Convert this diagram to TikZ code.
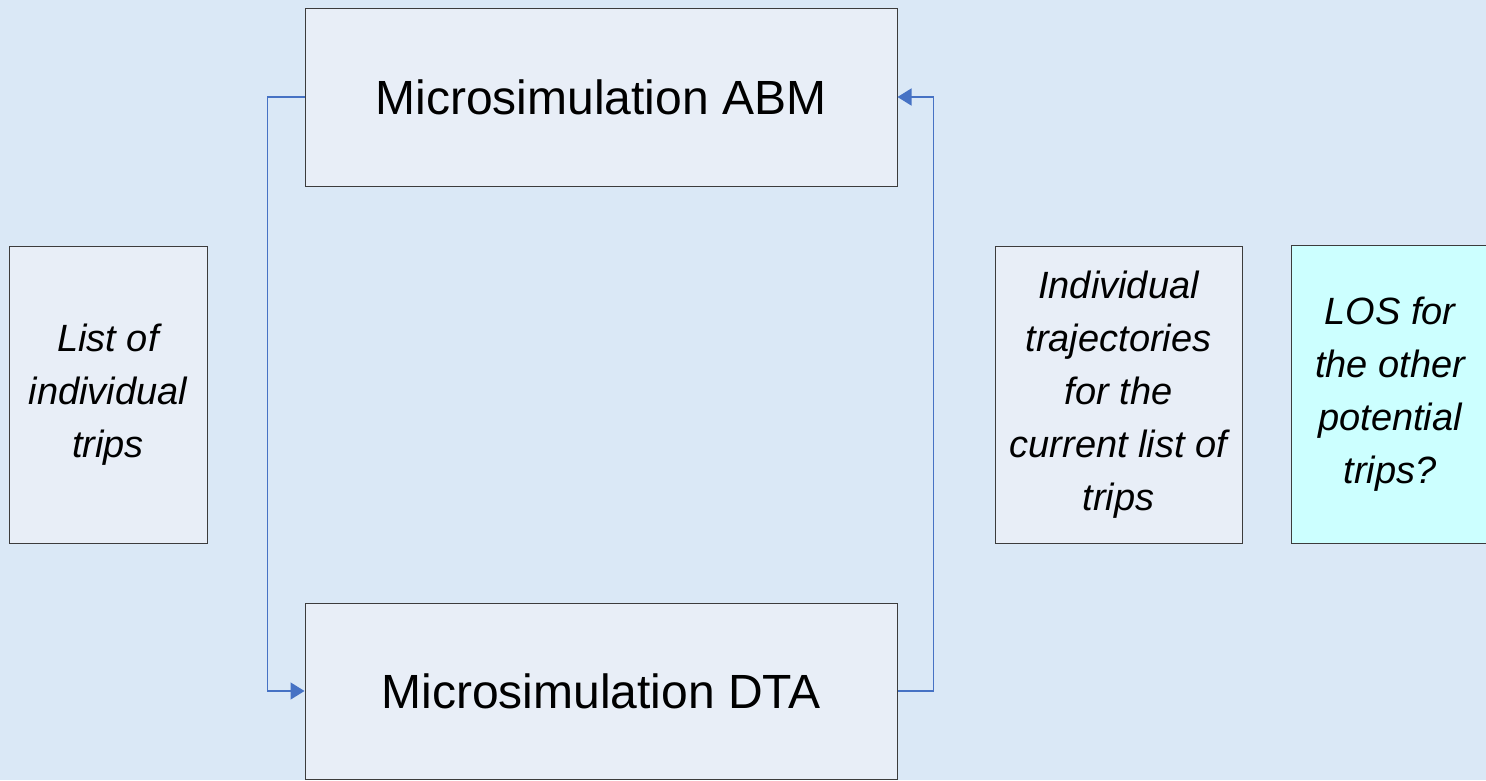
\documentclass[tikz,border=0pt]{standalone}
\usepackage{fontspec}
\setmainfont{Liberation Sans}
\usetikzlibrary{arrows.meta}
\definecolor{bgblue}{RGB}{218,232,246}
\definecolor{boxfill}{RGB}{232,238,247}
\definecolor{losfill}{RGB}{204,255,255}
\definecolor{linkblue}{RGB}{70,114,196}
\definecolor{edgegray}{RGB}{60,60,60}
\tikzset{
  mainbox/.style={draw=edgegray, line width=1pt, fill=boxfill, inner sep=0pt,
    font=\fontsize{48}{56}\selectfont, align=center},
  notebox/.style={draw=edgegray, line width=1pt, fill=boxfill, inner sep=0pt,
    font=\fontsize{38}{53}\selectfont\itshape, align=center},
  link/.style={draw=linkblue, line width=1.5pt, -{Triangle[length=14pt,width=17pt]}}
}
\begin{document}
\begin{tikzpicture}[x=1pt,y=-1pt]
\useasboundingbox (0,0) rectangle (1486,780);
\clip (0,0) rectangle (1486,780);
\fill[bgblue] (0,0) rectangle (1486,780);
\node[mainbox, minimum width=592pt, minimum height=178pt] (abm) at (601,97) {Microsimulation ABM};
\node[mainbox, minimum width=592pt, minimum height=176pt] (dta) at (601,691) {Microsimulation DTA};
\node[notebox, minimum width=198pt, minimum height=297pt] (trips) at (108,394.5) {List of\\individual\\trips};
\node[notebox, minimum width=247pt, minimum height=297pt] (traj) at (1118.5,394.5) {Individual\\trajectories\\for the\\current list of\\trips};
\node[notebox, fill=losfill, minimum width=198pt, minimum height=298pt] (los) at (1390,394) {LOS for\\the other\\potential\\trips?};
\draw[link] (abm.west) -- ++(-37,0) |- (dta.west);
\draw[link] (dta.east) -- ++(36,0) |- (abm.east);
\end{tikzpicture}
\end{document}
